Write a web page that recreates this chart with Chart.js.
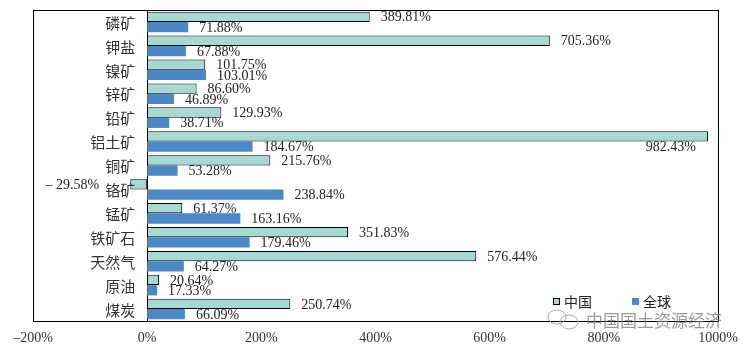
<!DOCTYPE html>
<html>
<head>
<meta charset="utf-8">
<script src="https://cdn.jsdelivr.net/npm/chart.js@4/dist/chart.umd.min.js"></script>
<style>
html,body{margin:0;padding:0;background:#fff;}
#wrap{width:749px;height:354px;position:relative;}
</style>
</head>
<body>
<div id="wrap"><canvas id="c" width="749" height="354"></canvas></div>
<script>
const categories = ['磷矿','钾盐','镍矿','锌矿','铅矿','铝土矿','铜矿','铬矿','锰矿','铁矿石','天然气','原油','煤炭'];
const chinaValues = [389.81, 705.36, 101.75, 86.60, 129.93, 982.43, 215.76, -29.58, 61.37, 351.83, 576.44, 20.64, 250.74];
const globalValues = [71.88, 67.88, 103.01, 46.89, 38.71, 184.67, 53.28, 238.84, 163.16, 179.46, 64.27, 17.33, 66.09];
const seriesNames = ['中国', '全球'];
const xTicks = [-200, 0, 200, 400, 600, 800, 1000];
const watermark = '中国国土资源经济';

const TEAL = '#a5dad2';
const NUM_FONT = '14px "Liberation Serif", "Times New Roman", serif';
const CJK_FONT = '"Noto Sans CJK SC", "Noto Sans", sans-serif';

function fmt(v){
  return (v < 0 ? '– ' + Math.abs(v).toFixed(2) : v.toFixed(2)) + '%';
}

function blueGradient(context){
  const chart = context.chart;
  const el = context.element;
  const {ctx} = chart;
  if (!el || el.y === undefined || !isFinite(el.y)) return '#4a88c8';
  const h = el.height || 10;
  const g = ctx.createLinearGradient(0, el.y - h/2, 0, el.y + h/2);
  g.addColorStop(0, '#6aa3dc');
  g.addColorStop(1, '#3672b4');
  return g;
}

const framePlugin = {
  id: 'frame',
  afterDraw(chart){
    const {ctx, chartArea: a} = chart;
    ctx.save();
    ctx.strokeStyle = '#000';
    ctx.lineWidth = 1;
    ctx.strokeRect(Math.round(a.left)+0.5, Math.round(a.top)+0.5, Math.round(a.right-a.left), Math.round(a.bottom-a.top));
    ctx.restore();
  }
};

// category names drawn just left of the zero line (the y axis crosses at x = 0)
const categoryLabelPlugin = {
  id: 'categoryLabels',
  afterDraw(chart){
    const {ctx} = chart;
    const xs = chart.scales.x, ys = chart.scales.y;
    const x0 = xs.getPixelForValue(0);
    ctx.save();
    ctx.font = '15px ' + CJK_FONT;
    ctx.fillStyle = '#333';
    ctx.textAlign = 'right';
    ctx.textBaseline = 'middle';
    categories.forEach((c, i) => {
      ctx.fillText(c, x0 - 12, ys.getPixelForValue(i) + 1);
    });
    ctx.restore();
  }
};

const labelPlugin = {
  id: 'valueLabels',
  afterDatasetsDraw(chart){
    const {ctx, chartArea: a} = chart;
    ctx.save();
    ctx.font = NUM_FONT;
    ctx.fillStyle = '#222';
    ctx.textBaseline = 'middle';
    chart.data.datasets.forEach((ds, di) => {
      const meta = chart.getDatasetMeta(di);
      meta.data.forEach((el, i) => {
        const v = ds.data[i];
        const txt = fmt(v);
        const w = ctx.measureText(txt).width;
        if (v < 0) {
          ctx.textAlign = 'right';
          ctx.fillText(txt, el.x - 31, el.y + 1);
        } else if (el.x + 11 + w > a.right) {
          ctx.textAlign = 'right';
          ctx.fillText(txt, el.x - 12, el.y + el.height/2 + 6);
        } else {
          ctx.textAlign = 'left';
          ctx.fillText(txt, el.x + 11, el.y + 1);
        }
      });
    });
    ctx.restore();
  }
};

const legendPlugin = {
  id: 'innerLegend',
  afterDraw(chart){
    const {ctx} = chart;
    ctx.save();
    const items = [
      {x: 553, fill: TEAL, stroke: '#000'},
      {x: 632, fill: '#4a88c8', stroke: null}
    ];
    const y = 298;
    ctx.font = '14px ' + CJK_FONT;
    ctx.textBaseline = 'middle';
    ctx.textAlign = 'left';
    items.forEach((it, i) => {
      ctx.fillStyle = it.fill;
      ctx.fillRect(it.x, y, 7, 7);
      if (it.stroke) { ctx.strokeStyle = it.stroke; ctx.lineWidth = 1; ctx.strokeRect(it.x+0.5, y+0.5, 6, 6); }
      ctx.fillStyle = '#222';
      ctx.fillText(seriesNames[i], it.x + 11, y + 3.5);
    });
    // watermark
    ctx.strokeStyle = '#aaa';
    ctx.lineWidth = 1;
    ctx.beginPath(); ctx.ellipse(557, 317, 9, 7, 0, 0, Math.PI*2); ctx.stroke();
    ctx.beginPath(); ctx.ellipse(569, 322, 9, 7, 0, 0, Math.PI*2); ctx.stroke();
    ctx.font = '17px ' + CJK_FONT;
    ctx.fillStyle = 'rgba(120,120,120,0.75)';
    ctx.fillText(watermark, 586, 321);
    ctx.restore();
  }
};

new Chart(document.getElementById('c'), {
  type: 'bar',
  data: {
    labels: categories,
    datasets: [
      {label: seriesNames[0], data: chinaValues, backgroundColor: TEAL, borderColor: '#000', borderWidth: 1, borderSkipped: false},
      {label: seriesNames[1], data: globalValues, backgroundColor: blueGradient, borderWidth: 0}
    ]
  },
  options: {
    indexAxis: 'y',
    responsive: false,
    animation: false,
    events: [],
    layout: {padding: {left: 33, right: 31, top: 10, bottom: 0}},
    categoryPercentage: 0.86,
    barPercentage: 1.0,
    plugins: {
      legend: {display: false},
      tooltip: {enabled: false}
    },
    scales: {
      x: {
        min: -200, max: 1000,
        afterBuildTicks(scale){ scale.ticks = xTicks.map(v => ({value: v})); },
        afterFit(scale){ scale.height = 33; },
        grid: {display: false, drawTicks: false, tickLength: 0},
        border: {display: true, color: '#000', width: 1},
        ticks: {
          padding: 9,
          color: '#333',
          font: {family: '"Liberation Serif", "Times New Roman", serif', size: 14},
          callback: v => (v < 0 ? '–' + Math.abs(v) : v) + '%'
        }
      },
      y: {
        position: {x: 0},
        grid: {display: false},
        border: {display: true, color: '#000', width: 1},
        ticks: {display: false}
      }
    }
  },
  plugins: [framePlugin, categoryLabelPlugin, labelPlugin, legendPlugin]
});
</script>
</body>
</html>
